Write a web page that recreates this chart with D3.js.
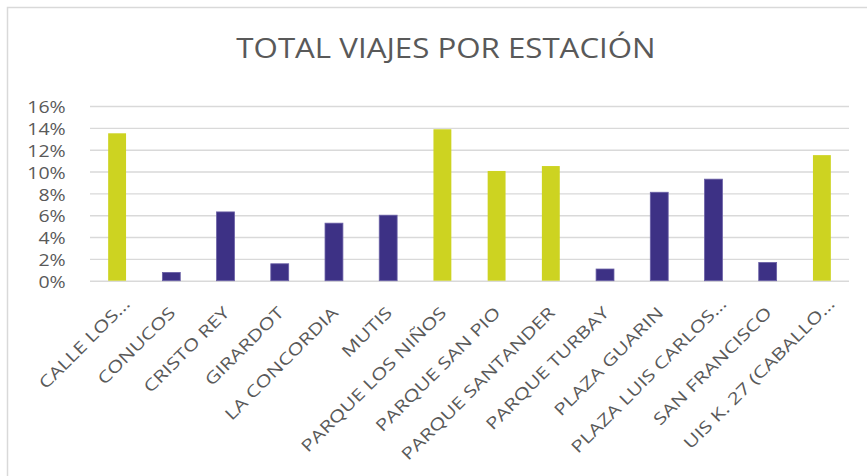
<!DOCTYPE html>
<html>
<head>
<meta charset="utf-8">
<script src="https://cdn.jsdelivr.net/npm/d3@7"></script>
<style>
  html, body { margin: 0; padding: 0; background: #ffffff; }
  svg { display: block; }
  text { font-family: "Open Sans", "Noto Sans", sans-serif; fill: #595959; }
</style>
</head>
<body>
<svg id="chart" width="867" height="476"></svg>
<script>
const title = "TOTAL VIAJES POR ESTACIÓN";
const categories = [
  "CALLE LOS…", "CONUCOS", "CRISTO REY", "GIRARDOT", "LA CONCORDIA", "MUTIS",
  "PARQUE LOS NIÑOS", "PARQUE SAN PIO", "PARQUE SANTANDER", "PARQUE TURBAY",
  "PLAZA GUARIN", "PLAZA LUIS CARLOS…", "SAN FRANCISCO", "UIS K. 27 (CABALLO…"
];
const shares = [0.135, 0.0076, 0.063, 0.0155, 0.0527, 0.060, 0.1387, 0.1005, 0.105, 0.0107, 0.081, 0.093, 0.0167, 0.115];
const yTicks = [0, 0.02, 0.04, 0.06, 0.08, 0.10, 0.12, 0.14, 0.16];
const highlightThreshold = 0.10;

const svg = d3.select("#chart");
const W = 867, H = 476;
const plot = { left: 90, right: 849, top: 106, bottom: 280.7 };

svg.append("rect").attr("width", W).attr("height", H).attr("fill", "#ffffff");
// outer chart border (extends beyond the view on the right/bottom)
svg.append("rect")
  .attr("x", 7.5).attr("y", 7.5).attr("width", W + 20).attr("height", H + 20)
  .attr("fill", "none").attr("stroke", "#d9d9d9").attr("stroke-width", 1.5);

const x = d3.scaleBand().domain(categories).range([plot.left, plot.right])
  .paddingInner(0.67).paddingOuter(0.335);
const y = d3.scaleLinear().domain([0, 0.16]).range([plot.bottom, plot.top]);

// gridlines
const yAxis = d3.axisLeft(y).tickValues(yTicks)
  .tickSize(-(plot.right - plot.left)).tickFormat(d3.format(".0%")).tickPadding(0);
const gy = svg.append("g").attr("transform", `translate(${plot.left},0)`).call(yAxis);
gy.select(".domain").remove();
gy.selectAll(".tick line").attr("stroke", "#d9d9d9").attr("stroke-width", 1.4);
gy.selectAll(".tick text").remove();

// y tick labels
gy.selectAll(".tick").append("text")
  .attr("transform", `translate(${65.7 - plot.left},1) scale(1.19,1)`)
  .attr("text-anchor", "end")
  .attr("dy", "0.35em")
  .style("font-size", "16.4px")
  .style("fill", "#595959")
  .text(d => d3.format(".0%")(d));

// bars
svg.append("g").selectAll("rect").data(shares).join("rect")
  .attr("x", (d, i) => x(categories[i]))
  .attr("width", x.bandwidth())
  .attr("y", d => y(d))
  .attr("height", d => y(0) - y(d))
  .attr("fill", d => d >= highlightThreshold ? "#cdd321" : "#3d3185")
  .attr("stroke", d => d >= highlightThreshold ? "none" : "#6a60a6")
  .attr("stroke-width", 0.8);

// x axis labels (truncated labels sit slightly further along, as in the original)
const xAxis = d3.axisBottom(x).tickSize(0).tickFormat("");
const gx = svg.append("g").attr("transform", `translate(0,${plot.bottom})`).call(xAxis);
gx.select(".domain").remove();
gx.selectAll(".tick").append("text")
  .attr("transform", `translate(1,29) rotate(-45) scale(1.28,1)`)
  .attr("text-anchor", "end")
  .attr("dx", d => d.endsWith("…") ? "0.6em" : 0)
  .attr("dy", "0.35em")
  .style("font-size", "16.4px")
  .style("fill", "#595959")
  .text(d => d);

// title
svg.append("text")
  .attr("transform", `translate(446,58.3) scale(1.175,1)`)
  .attr("text-anchor", "middle")
  .style("font-size", "26.6px")
  .style("fill", "#595959")
  .text(title);
</script>
</body>
</html>
